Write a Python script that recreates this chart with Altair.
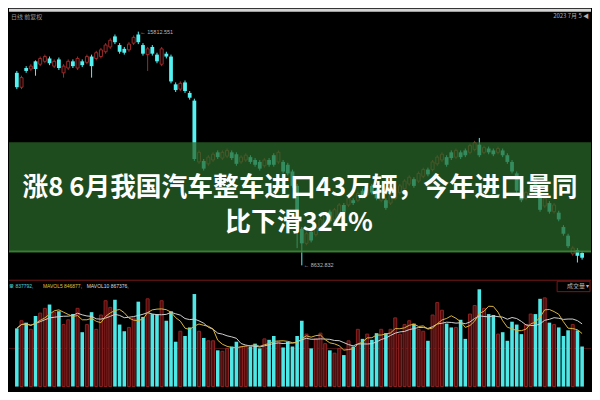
import altair as alt
import pandas as pd

# ---- candle data (index-like values) ----
OPEN = [14548, 14106, 14695, 14665, 14901, 14812, 14901, 14989, 14753, 14959,
        14548, 14695, 14901, 14695, 14901, 14871, 15048, 14989, 15048, 15195,
        15342, 15666, 15401, 15283, 15254, 15460, 15725, 15401, 15107, 15342,
        15107, 14812, 15136, 15048, 14194, 14047, 14253, 13930, 13694, 11811,
        11840, 11752, 11870, 12105, 11929, 11988, 12105, 12046, 11811, 11870,
        11958, 11870, 11811, 11693, 11870, 12017, 11811, 11811, 11723, 11517,
        11075, 9751, 9310, 9663, 9575, 9751, 9898, 10281, 10045, 10193,
        10487, 10487, 10634, 10634, 10928, 10811, 11075, 10928, 10634, 10634,
        10546, 10693, 10869, 10987, 11134, 11281, 11222, 11370, 11576, 11576,
        11752, 11870, 11958, 12105, 11958, 12105, 12164, 12105, 12194, 12341,
        12105, 12223, 12164, 12105, 12164, 12017, 11811, 11458, 10781, 10693,
        10781, 11281, 10869, 10457, 10546, 10281, 10251, 9810, 9545, 8986,
        9104, 9016]
CLOSE = [14106, 14400, 14606, 14753, 14665, 14989, 15048, 14842, 14901, 14695,
         14753, 14901, 14753, 14989, 14783, 15048, 14753, 15165, 15254, 15401,
         15548, 15489, 15195, 15165, 15430, 15636, 15489, 15136, 15283, 15136,
         14901, 15283, 15048, 14283, 14018, 14224, 13988, 13783, 11899, 12105,
         11605, 11958, 12046, 11958, 12105, 12164, 11929, 11752, 11958, 12017,
         11811, 11723, 11605, 11870, 11723, 11723, 12105, 11517, 11458, 11075,
         9751, 9310, 9604, 9398, 9810, 10045, 10193, 9987, 10340, 10487,
         10281, 10693, 10546, 10840, 10752, 10987, 10869, 10693, 10869, 10399,
         10781, 10928, 11075, 11222, 11340, 11075, 11458, 11576, 11428, 11811,
         11958, 12046, 11723, 11929, 12164, 11958, 12017, 12311, 12400, 12017,
         12252, 12105, 12046, 12223, 12017, 11811, 11517, 10928, 10634, 10869,
         10987, 10869, 10340, 10693, 10281, 10487, 10045, 9604, 9222, 9163,
         8927, 8868]
HIGH = [14606, 14459, 14753, 14812, 14930, 15048, 15107, 15048, 14959, 15018,
        14812, 14959, 14959, 15048, 14959, 15107, 15107, 15224, 15313, 15460,
        15607, 15725, 15460, 15342, 15489, 15695, 15812.551, 15460, 15342, 15401,
        15165, 15342, 15195, 15107, 14253, 14283, 14312, 13988, 13753, 12164,
        11899, 12017, 12105, 12164, 12164, 12223, 12164, 12105, 12017, 12076,
        12017, 11929, 11870, 11929, 11929, 12076, 12164, 11870, 11782, 11576,
        11134, 9810, 9663, 9722, 9869, 10104, 10251, 10340, 10399, 10546,
        10546, 10752, 10693, 10899, 10987, 11046, 11134, 10987, 10928, 10693,
        10840, 10987, 11134, 11281, 11399, 11340, 11517, 11634, 11634, 11870,
        12017, 12105, 12017, 12164, 12223, 12164, 12223, 12370, 12458, 12547,
        12311, 12282, 12223, 12282, 12223, 12076, 11870, 11517, 10840, 10928,
        11046, 11340, 10928, 10752, 10605, 10546, 10310, 9869, 9604, 9222,
        9163, 9074]
LOW = [14047, 14047, 14548, 14606, 14459, 14753, 14842, 14783, 14695, 14636,
       14400, 14636, 14695, 14636, 14724, 14812, 14400, 14930, 14989, 15136,
       15283, 15430, 15136, 15107, 15195, 15401, 15430, 15077, 14606, 15077,
       14842, 14753, 14989, 14224, 13959, 13988, 13930, 13724, 11840, 11752,
       11546, 11693, 11811, 11899, 11870, 11929, 11870, 11693, 11752, 11811,
       11752, 11664, 11546, 11634, 11664, 11664, 11752, 11458, 11399, 11017,
       9163, 8632.832, 9251, 9339, 9516, 9692, 9840, 9928, 9987, 10134,
       10222, 10428, 10487, 10575, 10693, 10752, 10811, 10634, 10575, 10340,
       10487, 10634, 10811, 10928, 11075, 11017, 11164, 11311, 11370, 11517,
       11693, 11811, 11664, 11870, 11899, 11899, 11958, 12046, 12135, 11958,
       12046, 12046, 11988, 12046, 11958, 11752, 11458, 10869, 10575, 10634,
       10722, 10811, 10281, 10399, 10222, 10222, 9987, 9545, 9163, 8927,
       8721, 8810]
VOLUME = [1220000, 1380000, 1340000, 1200000, 1480000, 1540000, 1640000, 1720000, 1560000, 1580000,
          1300000, 1400000, 1520000, 1640000, 1140000, 1300000, 1560000, 1200000, 1500000, 1800000,
          1660000, 1820000, 1300000, 1160000, 1240000, 1440000, 1780000, 1460000, 1840000, 1520000,
          1520000, 1800000, 1380000, 1580000, 940000, 1160000, 1060000, 1240000, 1940000, 1160000,
          1020000, 960000, 960000, 760000, 740000, 800000, 840000, 940000, 840000, 840000,
          840000, 900000, 800000, 1000000, 980000, 1060000, 940000, 820000, 940000, 840000,
          1060000, 1380000, 1100000, 800000, 1000000, 1120000, 900000, 760000, 700000, 800000,
          660000, 960000, 840000, 1200000, 1000000, 1100000, 980000, 1120000, 1200000, 1120000,
          1200000, 1440000, 1100000, 1300000, 1380000, 1320000, 1200000, 1160000, 960000, 1500000,
          1760000, 1600000, 1320000, 1240000, 1240000, 1400000, 1000000, 1520000, 1700000, 2040000,
          1640000, 1520000, 1500000, 1100000, 1140000, 960000, 1360000, 1300000, 1100000, 1300000,
          1520000, 1520000, 1840000, 1860000, 1340000, 1300000, 1240000, 1060000, 1180000, 1300000,
          1180000, 840000]

DAY = list(range(len(OPEN)))
DIRECTION = ["up" if c >= o else "down" for o, c in zip(OPEN, CLOSE)]
VOL_GRID = [800000]

TITLE_LINES = ["涨8 6月我国汽车整车进口43万辆，今年进口量同", "比下滑324%"]
HEADER_LEFT = "日线  前复权"
HEADER_RIGHT = "2023 7月 5 ◀"
VOL_LEGEND = ["量 837792,", "MAVOL5 846877,", "MAVOL10 867376,"]
VOL_BOX = "成交量 ▾"
EXTREME_DAYS = [26, 61]
EXTREME_TEXT = ["← 15812.551", "← 8632.832"]

df = pd.DataFrame(dict(day=DAY, open=OPEN, close=CLOSE, high=HIGH, low=LOW,
                       vol=VOLUME, dir=DIRECTION, zero=[0] * len(DAY)))

W = 584
PH = 272
VH = 112
UP = "#a02a2a"
DN = "#54f2f2"

xs = alt.Scale(domain=[-0.612, 121.84], nice=False, zero=False)
ps = alt.Scale(domain=[8191.7, 16519], nice=False, zero=False)
vs = alt.Scale(domain=[-100000, 2240000], nice=False, zero=False)
cs = alt.Scale(domain=["up", "down"], range=[UP, DN])

one = alt.Chart(pd.DataFrame({"k": [0]}))

# ---------------- price panel ----------------
base = alt.Chart(df).encode(x=alt.X("day:Q", scale=xs, axis=None))
wick = base.mark_rule(strokeWidth=1).encode(
    y=alt.Y("low:Q", scale=ps, axis=None), y2="high:Q",
    color=alt.Color("dir:N", scale=cs, legend=None))
body_up = base.transform_filter(alt.datum.dir == "up").mark_bar(
    size=3, fill="#000000", stroke=UP, strokeWidth=1).encode(
    y=alt.Y("open:Q", scale=ps, axis=None), y2="close:Q")
body_dn = base.transform_filter(alt.datum.dir == "down").mark_bar(
    size=3.8, color=DN).encode(
    y=alt.Y("open:Q", scale=ps, axis=None), y2="close:Q")

ext_df = pd.DataFrame({"day": EXTREME_DAYS,
                       "p": [HIGH[EXTREME_DAYS[0]], LOW[EXTREME_DAYS[1]]],
                       "t": EXTREME_TEXT})
ext = alt.Chart(ext_df).mark_text(align="left", baseline="middle", dx=2,
                                  fontSize=5.5, color="#b8b8b8").encode(
    x=alt.X("day:Q", scale=xs, axis=None),
    y=alt.Y("p:Q", scale=ps, axis=None), text="t:N")

banner = one.mark_rect(color="#2a6628", opacity=0.74).encode(
    x=alt.value(0), x2=alt.value(W), y=alt.value(134), y2=alt.value(245))
banner_edge = one.mark_rule(color="#3f8a3a", strokeWidth=1.5, opacity=0.8).encode(
    x=alt.value(0), x2=alt.value(W), y=alt.value(243.5))

title1 = one.mark_text(text=TITLE_LINES[0], font="Noto Sans CJK SC", fontSize=25.8,
                       fontWeight="bold", color="#ffffff", align="center",
                       baseline="middle").encode(x=alt.value(292), y=alt.value(179.5))
title2 = one.mark_text(text=TITLE_LINES[1], font="Noto Sans CJK SC", fontSize=25.8,
                       fontWeight="bold", color="#ffffff", align="center",
                       baseline="middle").encode(x=alt.value(291), y=alt.value(215))

topbar = one.mark_rect(color="#d4d4d4").encode(
    x=alt.value(0), x2=alt.value(W), y=alt.value(0), y2=alt.value(3))
hdr_l = one.mark_text(text=HEADER_LEFT, font="Noto Sans CJK SC", fontSize=6,
                      color="#9a9a9a", align="left", baseline="middle").encode(
    x=alt.value(2), y=alt.value(8))
hdr_r = one.mark_text(text=HEADER_RIGHT, font="Noto Sans CJK SC", fontSize=6,
                      color="#b0b0b0", align="right", baseline="middle").encode(
    x=alt.value(582), y=alt.value(7))

price = alt.layer(wick, body_up, body_dn, ext, banner, banner_edge,
                  title1, title2, topbar, hdr_l, hdr_r).properties(width=W, height=PH)

# ---------------- volume panel ----------------
vbase = alt.Chart(df).encode(x=alt.X("day:Q", scale=xs, axis=None))
grid = alt.Chart(pd.DataFrame({"g": VOL_GRID})).mark_rule(
    color="#4a1414", strokeWidth=1).encode(
    x=alt.value(0), x2=alt.value(W), y=alt.Y("g:Q", scale=vs, axis=None))
vup = vbase.transform_filter(alt.datum.dir == "up").mark_bar(
    size=3, fill="#4e0e0e", stroke="#8e2222", strokeWidth=1).encode(
    y=alt.Y("vol:Q", scale=vs, axis=None), y2="zero:Q")
vdn = vbase.transform_filter(alt.datum.dir == "down").mark_bar(
    size=3.6, color="#4fe6e6").encode(
    y=alt.Y("vol:Q", scale=vs, axis=None), y2="zero:Q")
ma10 = vbase.transform_window(ma10="mean(vol)", frame=[-9, 0],
                              sort=[alt.SortField("day")]).mark_line(
    color="#cfcfcf", strokeWidth=1).encode(y=alt.Y("ma10:Q", scale=vs, axis=None))
ma5 = vbase.transform_window(ma5="mean(vol)", frame=[-4, 0],
                             sort=[alt.SortField("day")]).mark_line(
    color="#d8b440", strokeWidth=1).encode(y=alt.Y("ma5:Q", scale=vs, axis=None))
sep = one.mark_rule(color="#7a1818", strokeWidth=1).encode(
    x=alt.value(0), x2=alt.value(W), y=alt.value(0.5))
leg_colors = ["#44d8e0", "#e0c040", "#dddddd"]
leg_x = [0, 34, 78]
legs = [one.mark_text(text=t, fontSize=5, color=c, align="left",
                      baseline="middle").encode(x=alt.value(x), y=alt.value(6.5))
        for t, c, x in zip(VOL_LEGEND, leg_colors, leg_x)]
box = one.mark_rect(fill="#000000", stroke="#7a1818", strokeWidth=1).encode(
    x=alt.value(550), x2=alt.value(583), y=alt.value(1.5), y2=alt.value(12))
box_t = one.mark_text(text=VOL_BOX, font="Noto Sans CJK SC", fontSize=6,
                      color="#bbbbbb", align="left", baseline="middle").encode(
    x=alt.value(560), y=alt.value(6.8))

volume = alt.layer(grid, vup, vdn, ma10, ma5, sep, *legs, box, box_t).properties(
    width=W, height=VH)

chart = alt.vconcat(price, volume, spacing=0).properties(
    background="#000000", padding=0).configure_view(stroke=None, fill="#000000")

chart.save("out.html", embed_options={"renderer": "svg", "actions": False})
